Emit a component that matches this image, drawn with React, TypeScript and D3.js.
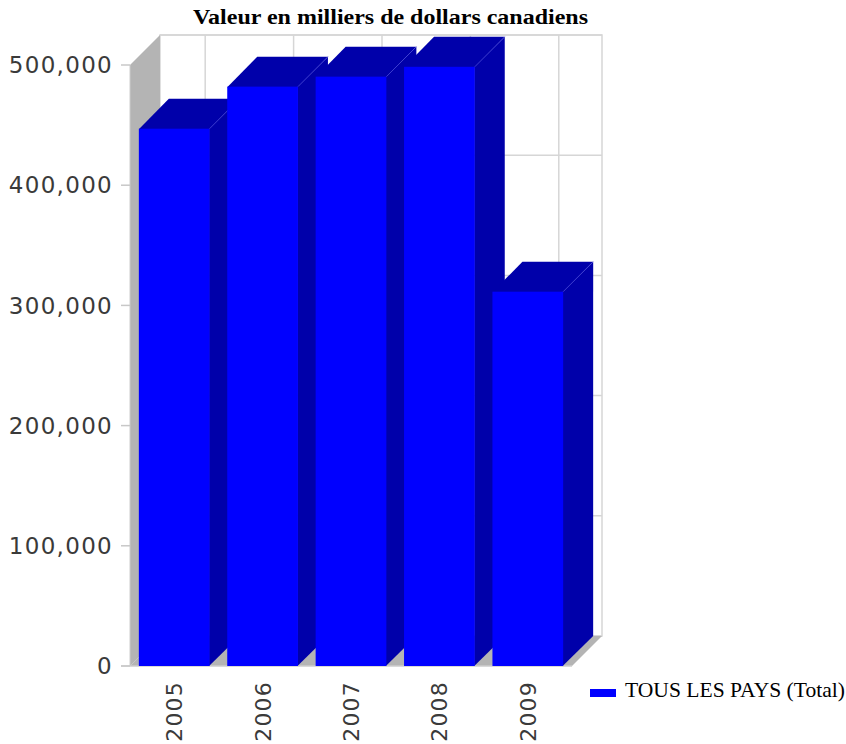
import React from 'react';
import * as d3 from 'd3';

const categories = ['2005', '2006', '2007', '2008', '2009'];
const values = [447000, 482000, 490300, 498500, 311400];
const yTicks = [0, 100000, 200000, 300000, 400000, 500000];
const seriesName = 'TOUS LES PAYS (Total)';
const title = 'Valeur en milliers de dollars canadiens';

const W = 846;
const H = 744;
const DX = 30;
const DY = -30;

export default function App() {
  const x = d3.scaleBand<string>().domain(categories).range([130, 572]).paddingInner(0.2).paddingOuter(0.1);
  const y = d3.scaleLinear().domain([0, 500000]).range([666, 65]);
  const fmt = d3.format(',');
  const x0 = 130;
  const x1 = 572;
  const y0 = y(0);
  const yTop = y(500000);
  const bw = x.bandwidth();
  const front = '#0000FF';
  const dark = '#0000AA';
  const wallGray = '#B4B4B4';
  const gridCol = '#D6D6D6';

  const pts = (a: number[][]) => a.map((p) => p.join(',')).join(' ');

  return (
    <svg width={W} height={H} style={{ position: 'absolute', left: 0, top: 0 }}>
      <rect x={0} y={0} width={W} height={H} fill="#fff" />
      {/* back wall */}
      <rect x={x0 + DX} y={yTop + DY} width={x1 - x0} height={y0 - yTop} fill="#fff" stroke={gridCol} strokeWidth={1.5} />
      {yTicks.map((t) => (
        <line key={'hg' + t} x1={x0 + DX} x2={x1 + DX} y1={y(t) + DY} y2={y(t) + DY} stroke={gridCol} strokeWidth={1.5} />
      ))}
      {categories.map((c) => (
        <line key={'vg' + c} x1={(x(c) as number) + bw / 2 + DX + 1} x2={(x(c) as number) + bw / 2 + DX + 1} y1={yTop + DY} y2={y0 + DY} stroke={gridCol} strokeWidth={1.5} />
      ))}
      {/* left wall */}
      <polygon points={pts([[x0, y0], [x0, yTop], [x0 + DX, yTop + DY], [x0 + DX, y0 + DY]])} fill={wallGray} />
      {/* floor */}
      <polygon points={pts([[x0, y0], [x1, y0], [x1 + DX, y0 + DY], [x0 + DX, y0 + DY]])} fill={wallGray} />
      {/* axes */}
      <line x1={x0} x2={x0} y1={yTop} y2={y0} stroke="#CCCCCC" strokeWidth={1} />
      <line x1={x0 - 9} x2={x1} y1={y0} y2={y0} stroke="#CCCCCC" strokeWidth={1.5} />
      {yTicks.map((t) => (
        <g key={'yt' + t}>
          <line x1={x0 - 9} x2={x0} y1={y(t)} y2={y(t)} stroke="#C8C8C8" strokeWidth={1.5} />
          <text x={113} y={y(t)} dy="0.36em" textAnchor="end" fontFamily="DejaVu Sans" fontSize={23} letterSpacing={1.3} fill="#3A3A3A">
            {fmt(t)}
          </text>
        </g>
      ))}
      {/* bars */}
      {categories.map((c, i) => {
        const bx = x(c) as number;
        const by = y(values[i]);
        return (
          <g key={'bar' + c}>
            <polygon points={pts([[bx + bw - 0.5, y0], [bx + bw - 0.5, by], [bx + bw + DX, by + DY], [bx + bw + DX, y0 + DY]])} fill={dark} />
            <polygon points={pts([[bx, by + 0.5], [bx + bw, by + 0.5], [bx + bw + DX, by + DY], [bx + DX, by + DY]])} fill={dark} />
            <rect x={bx} y={by} width={bw} height={y0 - by} fill={front} />
            <line x1={bx + bw} y1={by} x2={bx + bw + DX} y2={by + DY} stroke="#4B4BD8" strokeWidth={0.8} />
          </g>
        );
      })}
      {/* x labels */}
      {categories.map((c) => (
        <text key={'xl' + c} transform={`translate(${(x(c) as number) + bw / 2},681) rotate(-90)`} dy="0.36em" textAnchor="end" fontFamily="DejaVu Sans" fontSize={22} letterSpacing={1.2} fill="#3A3A3A">
          {c}
        </text>
      ))}
      {/* title */}
      <text x={390.5} y={24} textAnchor="middle" fontFamily="Liberation Serif" fontWeight="bold" fontSize={20} textLength={395} lengthAdjust="spacingAndGlyphs" fill="#000">
        {title}
      </text>
      {/* legend */}
      <rect x={590} y={689} width={26} height={8} fill={front} />
      <text x={625} y={697} fontFamily="Liberation Serif" fontSize={21} textLength={220} lengthAdjust="spacingAndGlyphs" fill="#000">
        {seriesName}
      </text>
    </svg>
  );
}
